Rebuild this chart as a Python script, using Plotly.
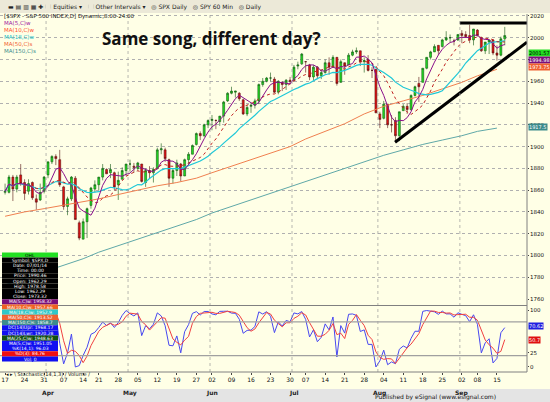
import pandas as pd
import plotly.graph_objects as go

# S&P 500 daily bars, 17 Mar - 17 Sep 2014
opens = [1858,1858,1872,1861,1874,1867,1859,1867,1852,1851,1859,
         1874,1886,1891,1888,1863,1845,1852,1871,1830,1815,1831,1846,1861,1865,1872,1879,1876,1876,1865,1870,1878,
         1884,1882,1880,1884,1867,1878,1876,1880,1897,1897,1888,1871,1878,1884,1873,1888,1893,1902,1912,1910,1920,
         1924,1924,1923,1928,1942,1949,1950,1949,1943,1930,1937,1938,1942,1957,1960,1963,1962,1950,1959,1957,1961,
         1961,1974,1976,1978,1975,1964,1973,1965,1968,1977,1973,1982,1959,1977,1975,1984,1987,1988,1978,1980,1970,1971,
         1930,1926,1939,1920,1924,1910,1933,1937,1934,1947,1958,1959,1972,1982,1987,1993,1992,1998,2000,1997,1998,
         2004,2003,2002,1998,2007,2000,1988,1996,1998,1986,1984,1999]
highs = [1866,1874,1874,1874,1884,1870,1870,1868,1856,1866,1873,
         1886,1892,1893,1897,1864,1854,1873,1873,1832,1834,1844,1863,1869,1872,1884,1880,1884,1877,1877,1881,1884,
         1888,1885,1886,1884,1880,1882,1881,1899,1903,1899,1889,1880,1888,1885,1889,1895,1902,1913,1914,1921,1925,
         1929,1925,1928,1942,1950,1955,1951,1950,1944,1938,1940,1944,1958,1963,1964,1968,1964,1961,1960,1962,1964,
         1975,1978,1986,1978,1976,1975,1974,1971,1980,1982,1984,1982,1980,1976,1986,1989,1991,1988,1982,1984,1973,1971,
         1932,1942,1939,1929,1927,1932,1939,1940,1948,1956,1964,1972,1982,1988,1994,1993,1999,2006,2003,1999,2003,
         2007,2006,2012,2008,2008,2001,1996,1998,1998,1993,2001,2010]
lows = [1856,1857,1850,1858,1864,1851,1856,1851,1842,1850,1857,
        1871,1884,1883,1863,1842,1837,1850,1833,1814,1815,1816,1843,1858,1860,1869,1875,1871,1860,1851,1870,1873,
        1877,1876,1878,1867,1863,1871,1867,1879,1893,1886,1863,1866,1873,1868,1873,1884,1893,1901,1906,1909,1917,
        1915,1916,1919,1922,1941,1948,1945,1942,1929,1928,1931,1935,1939,1955,1959,1960,1949,1948,1951,1952,1957,
        1960,1971,1975,1968,1961,1961,1962,1962,1967,1966,1973,1956,1960,1966,1975,1983,1985,1974,1968,1969,1963,1931,
        1917,1925,1917,1913,1905,1905,1933,1930,1933,1946,1941,1959,1971,1980,1987,1984,1991,1997,1996,1993,1997,
        1995,2000,1995,1993,2001,1987,1985,1985,1984,1979,1983,1993]
closes = [1859,1872,1861,1872,1866,1857,1866,1853,1849,1858,1872,
          1886,1891,1889,1865,1845,1852,1872,1833,1816,1831,1843,1862,1865,1872,1880,1875,1879,1863,1869,1878,1884,
          1884,1881,1885,1868,1878,1876,1879,1897,1898,1889,1871,1878,1885,1873,1888,1893,1901,1912,1910,1920,1924,
          1925,1924,1928,1941,1949,1951,1951,1944,1930,1936,1938,1942,1957,1960,1963,1963,1950,1960,1957,1961,1960,
          1973,1975,1985,1978,1964,1973,1965,1968,1977,1973,1982,1958,1978,1974,1984,1987,1988,1978,1979,1970,1970,1931,
          1925,1939,1920,1920,1910,1932,1937,1934,1947,1955,1955,1972,1982,1987,1992,1988,1998,2000,2000,1997,2003,
          2002,2001,1998,2008,2002,1988,1996,1998,1986,1984,1999,2002]

# week-start bar positions and labels
week_idx = [0,5,10,15,20,24,29,34,39,44,49,53,58,63,68,73,77,82,87,92,97,102,107,112,117,121,126]
week_lbl = ["17","24","31","07","14","21","28","05","12","19","27","02","09","16","23","30",
            "07","14","21","28","04","11","18","25","02","08","15"]
month_idx = [11,32,53,74,96,117]
month_lbl = ["Apr","May","Jun","Jul","Aug","Sep"]

# slow moving averages
ma50_w = [1836,1840,1843,1846,1849,1852,1856,1860,1864,1867,1871,1876,1882,1888,1894,1900,
          1907,1914,1921,1930,1937,1942,1947,1953,1959,1965,1971]
ma150_w = [1773,1779,1785,1791,1797,1803,1809,1815,1821,1827,1833,1839,1845,1851,1857,1863,
           1868,1874,1880,1886,1892,1897,1902,1906,1910,1914,1917]

W, H = 550, 402
L, R, T, B = 0, 23, 14, 30
CREAM = "#FFFFE6"


def px(x):
    return (x - L) / (W - L - R)


def py(y):
    return (H - B - y) / (H - T - B)


idx = list(range(len(closes)))
df = pd.DataFrame({"o": opens, "h": highs, "l": lows, "c": closes})
ma5 = df.c.rolling(5, min_periods=1).mean()
ma10 = df.c.rolling(10, min_periods=1).mean()
ma18 = df.c.rolling(18, min_periods=1).mean()
ll = df.l.rolling(14, min_periods=1).min()
hh = df.h.rolling(14, min_periods=1).max()
k = 100 * (df.c - ll) / (hh - ll)
d = k.rolling(3, min_periods=1).mean()

fig = go.Figure()
fig.add_trace(go.Scatter(x=week_idx, y=ma150_w, mode="lines", line=dict(color="#5FA8A8", width=1)))
fig.add_trace(go.Scatter(x=week_idx, y=ma50_w, mode="lines", line=dict(color="#F08050", width=1)))
fig.add_trace(go.Candlestick(
    x=idx, open=opens, high=highs, low=lows, close=closes,
    increasing=dict(fillcolor="#22E022", line=dict(color="#115511", width=0.6)),
    decreasing=dict(fillcolor="#E81010", line=dict(color="#551111", width=0.6)),
    whiskerwidth=0))
fig.add_trace(go.Scatter(x=idx, y=ma18, mode="lines", line=dict(color="#20C8D8", width=1.2)))
fig.add_trace(go.Scatter(x=idx, y=ma10, mode="lines", line=dict(color="#C02020", width=1, dash="dot")))
fig.add_trace(go.Scatter(x=idx, y=ma5, mode="lines", line=dict(color="#8A108A", width=1)))
fig.add_trace(go.Scatter(x=idx, y=k, mode="lines", line=dict(color="#4848F0", width=1), yaxis="y2"))
fig.add_trace(go.Scatter(x=idx, y=d, mode="lines", line=dict(color="#F04040", width=1), yaxis="y2"))

x0, x1 = -1.3, 133.7
# drawn trend lines
fig.add_shape(type="line", x0=99.9, y0=1904, x1=x1, y1=1996, line=dict(color="black", width=3))
fig.add_shape(type="line", x0=116.5, y0=2013.5, x1=x1, y1=2013.5, line=dict(color="black", width=3))
for m in month_idx:
    fig.add_shape(type="line", x0=m - 0.5, x1=m - 0.5, y0=0, y1=1, yref="paper",
                  line=dict(color="#999999", width=0.7, dash="dot"))
for v in [20, 80]:
    fig.add_shape(type="line", x0=0, x1=1, xref="paper", y0=v, y1=v, yref="y2",
                  line=dict(color="#A0A0A0", width=1.2))
# panel separators
for yy in [305.5, 372]:
    fig.add_shape(type="line", x0=0, x1=1, xref="paper", y0=py(yy), y1=py(yy), yref="paper",
                  line=dict(color="#808080", width=1))
fig.add_shape(type="line", x0=1, x1=1, xref="paper", y0=py(372), y1=py(14), yref="paper",
              line=dict(color="#808080", width=1))

# toolbar and status bar
fig.add_shape(type="rect", xref="paper", yref="paper", x0=px(0), x1=px(W), y0=py(13), y1=py(0),
              fillcolor="#ECE9D8", line=dict(width=0), layer="above")
fig.add_shape(type="rect", xref="paper", yref="paper", x0=px(0), x1=px(W), y0=py(H), y1=py(389),
              fillcolor="#E4E4E4", line=dict(width=0))

ann = []
ann.append(dict(x=px(6), y=py(6.5), text="▬ ▤ ▥ ▦ ✚ 🗀 Equities ▾   🗀 Other Intervals ▾   ◎ SPX Daily   ◎ SPY 60 Min   ◎ Daily",
                font=dict(size=6, color="#222")))
ann.append(dict(x=px(2), y=py(16), text="[$SPX - S&P 500 INDEX,D] Dynamic,8:00-24:00", font=dict(size=5.5, color="#111")))
for i, (t, c) in enumerate([("MA(5,C)w", "#A020A0"), ("MA(10,C)w", "#FF5030"), ("MA(18,C)w", "#20C0C8"),
                            ("MA(50,C)s", "#F06030"), ("MA(150,C)s", "#3C8C8C")]):
    ann.append(dict(x=px(2), y=py(23 + 7 * i), text=t, font=dict(size=5.5, color=c)))
ann.append(dict(x=px(100), y=py(38), text="<b>Same song, different day?</b>",
                font=dict(size=17, color="#111", family="Open Sans")))
ann.append(dict(x=px(498), y=py(397), text="Published by eSignal (www.esignal.com)", font=dict(size=6, color="#111"),
                xanchor="right"))
ann.append(dict(x=px(4), y=py(374), text="◂ ▸ \\ Stochastic(14,1,3) / Volume /", font=dict(size=5, color="#111")))

# right-side value tags
for yy, t, bg, fc in [(53, "2001.57", "#22DD22", "#000"), (60, "1994.98", "#7A107A", "#fff"),
                      (67, "1973.75", "#F06030", "#fff"), (127, "1917.5", "#3C8C8C", "#fff"),
                      (326, "70.62", "#2020E0", "#fff"), (340, "50.7", "#E01010", "#fff")]:
    ann.append(dict(x=px(528), y=py(yy), text=t, bgcolor=bg, font=dict(size=5, color=fc), borderpad=0))

# data window box
rows = [("OHL", "#22E022", "#000"), ("Symbol: $SPX,D", "#000", "#fff"), ("Date: 07/01/14", "#000", "#fff"),
        ("Time: 00:00", "#000", "#fff"), ("Price: 1990.46", "#000", "#fff"), ("Open: 1962.29", "#000", "#fff"),
        ("High: 1978.58", "#000", "#fff"), ("Low: 1962.29", "#000", "#fff"), ("Close: 1973.32", "#000", "#fff"),
        ("MA(5,C)w: 1958.32", "#7A107A", "#fff"), ("MA(10,C)w: 1957.66", "#F06020", "#fff"),
        ("MA(18,C)w: 1952.9", "#30C8C8", "#fff"), ("MA(50,C)s: 1913.52", "#F06030", "#fff"),
        ("MA(150,C)s: 1858.7", "#3C8C8C", "#fff"), ("DC(14)Upr: 1968.17", "#1010F0", "#fff"),
        ("DC(14)Lwr: 1920.28", "#1010F0", "#fff"), ("MA(25,C)w: 1948.63", "#105010", "#fff"),
        ("MA(5,C)w: 1951.05", "#1010F0", "#fff"), ("%K(14,1): 96.03", "#1010F0", "#fff"),
        ("%D(3): 84.76", "#F01010", "#fff"), ("Vol: 0", "#1010F0", "#fff")]
for i, (t, bg, fc) in enumerate(rows):
    yc = 255 + 5.2 * i
    fig.add_shape(type="rect", xref="paper", yref="paper", x0=px(2), x1=px(58),
                  y0=py(yc + 2.6), y1=py(yc - 2.6), fillcolor=bg, line=dict(width=0), layer="above")
    ann.append(dict(x=px(30), y=py(yc), text=t, xanchor="center", font=dict(size=4.5, color=fc)))

for m, t in zip(month_idx, month_lbl):
    ann.append(dict(x=m, xref="x", y=py(393), text="<b>" + t + "</b>", xanchor="center",
                    font=dict(size=6, color="#222")))

for a in ann:
    a.setdefault("xref", "paper")
    a.setdefault("yref", "paper")
    a.setdefault("xanchor", "left")
    a.setdefault("yanchor", "middle")
    a.setdefault("showarrow", False)
    a["font"].setdefault("family", "DejaVu Sans")

fig.update_layout(
    annotations=ann,
    width=W, height=H, margin=dict(l=L, r=R, t=T, b=B),
    paper_bgcolor=CREAM, plot_bgcolor=CREAM, showlegend=False,
    font=dict(family="DejaVu Sans", size=6, color="#111"),
    xaxis=dict(range=[x0, x1], tickvals=week_idx, ticktext=week_lbl, showgrid=False, anchor="y2",
               rangeslider=dict(visible=False), ticks="outside", ticklen=2, tickfont=dict(size=6),
               zeroline=False, automargin=False),
    yaxis=dict(domain=[py(300), 1], range=[1759.1, 2021.8], side="right", anchor="x",
               tickvals=list(range(1760, 2021, 20)), showgrid=True, gridcolor="#B0B0B0",
               griddash="dot", gridwidth=0.7, tickfont=dict(size=5.5), ticks="outside", ticklen=1,
               zeroline=False, automargin=False),
    yaxis2=dict(domain=[0, py(305.5)], range=[-8.9, 108.9], side="right", tickvals=[0, 25, 100],
                anchor="x", showgrid=False, tickfont=dict(size=5.5), ticks="outside", ticklen=1,
                zeroline=False, automargin=False),
)

# drop the page's default body margin so the 550x402 figure fills the window
fig.write_html("out.html", config={"displayModeBar": False},
               post_script="document.body.style.margin='0';document.body.style.overflow='hidden';")
